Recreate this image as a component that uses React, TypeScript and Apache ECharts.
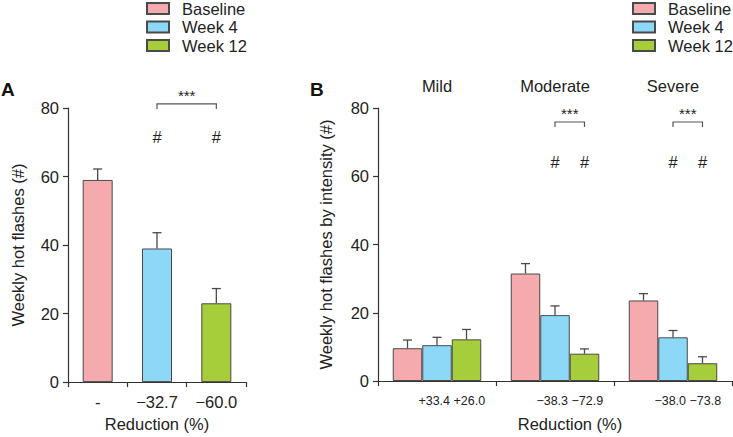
import React, { useEffect, useRef } from "react";
import * as echarts from "echarts";

const FONT = "'Liberation Sans', Arial, Helvetica, sans-serif";

// Legend / series
const seriesNames = ["Baseline", "Week 4", "Week 12"];
const seriesColors = ["#F5AAAD", "#8DD7F7", "#A6CD3A"];

// Panel A
const categoriesA = ["Baseline", "Week 4", "Week 12"];
const valuesA = [59, 39, 23];
const errorsA = [3.2, 4.6, 4.3];
const reductionA = ["-", "\u221232.7", "\u221260.0"];

// Panel B
const categoriesB = ["Mild", "Moderate", "Severe"];
const baselineB = [9.6, 31.5, 23.6];
const week4B = [10.5, 19.3, 12.8];
const week12B = [12.2, 8.0, 5.2];
const baselineErrB = [2.4, 2.9, 2.0];
const week4ErrB = [2.3, 2.7, 2.0];
const week12ErrB = [2.9, 1.4, 1.9];
const reductionWeek4B = ["+33.4", "\u221238.3", "\u221238.0"];
const reductionWeek12B = ["+26.0", "\u221272.9", "\u221273.8"];

// Y axis ticks (both panels)
const yMin = 0;
const yMax = 80;
const yInterval = 20;

// Significance annotations: [category, bar slot (0 = Week 4, 1 = Week 12 in B), level]
const hashMarksA = [
  [1, 0, 71.5],
  [2, 0, 71.5],
];
const hashMarksB = [
  [1, 0, 64.3],
  [1, 1, 64.3],
  [2, 0, 64.3],
  [2, 1, 64.3],
];
// [fromCategory, fromSlot, toCategory, toSlot, level]
const bracketsA = [[1, 0, 2, 0, 81.2]];
const bracketsB = [
  [1, 0, 1, 1, 75.9],
  [2, 0, 2, 1, 75.9],
];

const valuesB = [baselineB, week4B, week12B];
const errsB = [baselineErrB, week4ErrB, week12ErrB];

const TEXT = "#222";
const AXIS = "#333";
const BORDER = "#4a4a4a";

function errorRender(slotFrac: number) {
  return (params: any, api: any) => {
    const cat = api.value(0);
    const lo = api.value(1);
    const hi = api.value(2);
    const slot = api.value(3);
    const p1 = api.coord([cat, lo]);
    const p2 = api.coord([cat, hi]);
    const bw = api.size([1, 0])[0];
    const x = p1[0] + slot * bw * slotFrac;
    const st = { stroke: BORDER, lineWidth: 1.3 };
    return {
      type: "group",
      children: [
        { type: "line", shape: { x1: x, y1: p1[1], x2: x, y2: p2[1] }, style: st },
        { type: "line", shape: { x1: x - 4.5, y1: p2[1], x2: x + 4.5, y2: p2[1] }, style: st },
      ],
    };
  };
}

function hashRender(slotFrac: number) {
  return (params: any, api: any) => {
    const p = api.coord([api.value(0), api.value(2)]);
    const bw = api.size([1, 0])[0];
    return {
      type: "text",
      x: p[0] + api.value(1) * bw * slotFrac,
      y: p[1],
      style: {
        text: "#",
        fill: TEXT,
        font: `16.5px ${FONT}`,
        align: "center",
        verticalAlign: "middle",
      },
    };
  };
}

function bracketRender(slotFrac: number, starSize: number) {
  return (params: any, api: any) => {
    const bw = api.size([1, 0])[0];
    const a = api.coord([api.value(0), api.value(4)]);
    const b = api.coord([api.value(2), api.value(4)]);
    const x1 = a[0] + api.value(1) * bw * slotFrac;
    const x2 = b[0] + api.value(3) * bw * slotFrac;
    const y = a[1];
    return {
      type: "group",
      children: [
        {
          type: "polyline",
          shape: { points: [[x1, y + 5], [x1, y], [x2, y], [x2, y + 5]] },
          style: { stroke: "#555", lineWidth: 1.2, fill: "none" },
        },
        {
          type: "text",
          x: (x1 + x2) / 2,
          y: y - 1,
          style: {
            text: "***",
            fill: TEXT,
            font: `${starSize}px ${FONT}`,
            align: "center",
            verticalAlign: "bottom",
          },
        },
      ],
    };
  };
}

export default function App() {
  const ref = useRef<HTMLDivElement>(null);

  useEffect(() => {
    if (!ref.current) return;
    const chart = echarts.init(ref.current, null, { renderer: "svg" });

    const barStyle = (i: number) => ({
      color: seriesColors[i],
      borderColor: BORDER,
      borderWidth: 1,
    });

    const seriesA = seriesNames.map((name, i) => ({
      type: "bar",
      name,
      xAxisIndex: 0,
      yAxisIndex: 0,
      barWidth: 30,
      barGap: "-100%",
      data: valuesA.map((v, j) => (j === i ? v : "-")),
      itemStyle: barStyle(i),
    }));

    const seriesB = seriesNames.map((name, i) => ({
      type: "bar",
      name,
      xAxisIndex: 1,
      yAxisIndex: 1,
      barWidth: "25%",
      barGap: "0%",
      data: valuesB[i],
      itemStyle: barStyle(i),
    }));

    const errDataA = valuesA.map((v, i) => [i, v, v + errorsA[i], 0]);
    const errDataB: number[][] = [];
    valuesB.forEach((vals, s) =>
      vals.forEach((v, c) => errDataB.push([c, v, v + errsB[s][c], s - 1]))
    );

    const redDataB = categoriesB.map((_, c) => [c, 0.5, 0]);

    const yAxisBase = (name: string) => ({
      type: "value",
      min: yMin,
      max: yMax,
      interval: yInterval,
      axisLine: { show: true, lineStyle: { color: AXIS, width: 1.2 } },
      axisTick: { show: true, length: 5, lineStyle: { color: AXIS, width: 1.2 } },
      axisLabel: { fontSize: 16.5, color: TEXT, margin: 9, fontFamily: FONT },
      splitLine: { show: false },
      name,
      nameLocation: "middle",
      nameGap: 42,
      nameTextStyle: { fontSize: 16.5, color: TEXT, fontFamily: FONT },
    });

    const legendBase = (left: number) => ({
      orient: "vertical",
      left,
      top: 0,
      padding: 0,
      itemGap: 1.5,
      itemWidth: 22,
      itemHeight: 11,
      icon: "rect",
      data: seriesNames,
      selectedMode: false,
      textStyle: { fontSize: 16.5, color: TEXT, fontFamily: FONT, padding: [0, 0, 0, 8] },
    });

    chart.setOption({
      animation: false,
      textStyle: { fontFamily: FONT },
      legend: [legendBase(146), legendBase(632)],
      grid: [
        { left: 68, top: 108, width: 178, height: 275 },
        { left: 378, top: 108, width: 354, height: 275 },
      ],
      xAxis: [
        {
          gridIndex: 0,
          type: "category",
          data: categoriesA,
          axisLine: { lineStyle: { color: AXIS, width: 1.2 } },
          axisTick: { show: true, length: 5, lineStyle: { color: AXIS, width: 1.2 } },
          axisLabel: {
            formatter: (_v: string, i: number) => reductionA[i],
            margin: 11,
            fontSize: 16.5,
            color: TEXT,
            fontFamily: FONT,
          },
          name: "Reduction (%)",
          nameLocation: "middle",
          nameGap: 32,
          nameTextStyle: { fontSize: 16.5, color: TEXT, fontFamily: FONT },
        },
        {
          gridIndex: 1,
          type: "category",
          data: categoriesB,
          axisLine: { lineStyle: { color: AXIS, width: 1.2 } },
          axisTick: { show: true, length: 5, lineStyle: { color: AXIS, width: 1.2 } },
          axisLabel: { show: false },
          name: "Reduction (%)",
          nameLocation: "middle",
          nameGap: 34,
          nameTextStyle: {
            fontSize: 16.5,
            color: TEXT,
            fontFamily: FONT,
            padding: [0, 0, 0, 30],
          },
        },
        {
          gridIndex: 1,
          type: "category",
          position: "top",
          data: categoriesB,
          axisLine: { show: false },
          axisTick: { show: false },
          axisLabel: { margin: 14, fontSize: 16.5, color: TEXT, fontFamily: FONT },
        },
      ],
      yAxis: [
        { gridIndex: 0, ...yAxisBase("Weekly hot flashes (#)") },
        { gridIndex: 1, ...yAxisBase("Weekly hot flashes by intensity (#)"), nameGap: 44 },
      ],
      graphic: [
        {
          type: "text",
          left: 1,
          top: 80,
          style: { text: "A", font: `bold 19px ${FONT}`, fill: "#111" },
        },
        {
          type: "text",
          left: 310,
          top: 80,
          style: { text: "B", font: `bold 19px ${FONT}`, fill: "#111" },
        },
      ],
      series: [
        ...seriesA,
        ...seriesB,
        {
          type: "custom",
          name: "errA",
          xAxisIndex: 0,
          yAxisIndex: 0,
          clip: false,
          renderItem: errorRender(0),
          encode: { x: 0, y: [1, 2] },
          data: errDataA,
          z: 3,
        },
        {
          type: "custom",
          name: "errB",
          xAxisIndex: 1,
          yAxisIndex: 1,
          clip: false,
          renderItem: errorRender(0.25),
          encode: { x: 0, y: [1, 2] },
          data: errDataB,
          z: 3,
        },
        {
          type: "custom",
          name: "hashA",
          xAxisIndex: 0,
          yAxisIndex: 0,
          clip: false,
          renderItem: hashRender(0),
          encode: { x: 0, y: 2 },
          data: hashMarksA,
        },
        {
          type: "custom",
          name: "hashB",
          xAxisIndex: 1,
          yAxisIndex: 1,
          clip: false,
          renderItem: hashRender(0.25),
          encode: { x: 0, y: 2 },
          data: hashMarksB,
        },
        {
          type: "custom",
          name: "bracketA",
          xAxisIndex: 0,
          yAxisIndex: 0,
          clip: false,
          renderItem: bracketRender(0, 15),
          encode: { x: 0, y: 4 },
          data: bracketsA,
        },
        {
          type: "custom",
          name: "bracketB",
          xAxisIndex: 1,
          yAxisIndex: 1,
          clip: false,
          renderItem: bracketRender(0.25, 15),
          encode: { x: 0, y: 4 },
          data: bracketsB,
        },
        {
          type: "custom",
          name: "reductionB",
          xAxisIndex: 1,
          yAxisIndex: 1,
          clip: false,
          renderItem: (params: any, api: any) => {
            const c = api.value(0);
            const p = api.coord([c, api.value(2)]);
            const bw = api.size([1, 0])[0];
            return {
              type: "text",
              x: p[0] + api.value(1) * bw * 0.25,
              y: p[1] + 20,
              style: {
                text: `${reductionWeek4B[c]} ${reductionWeek12B[c]}`,
                fill: TEXT,
                font: `12.5px ${FONT}`,
                align: "center",
                verticalAlign: "middle",
              },
            };
          },
          encode: { x: 0, y: 2 },
          data: redDataB,
        },
      ],
    });

    return () => chart.dispose();
  }, []);

  return (
    <div
      ref={ref}
      style={{ position: "fixed", left: 0, top: 0, width: 733, height: 437, background: "#fff" }}
    />
  );
}
